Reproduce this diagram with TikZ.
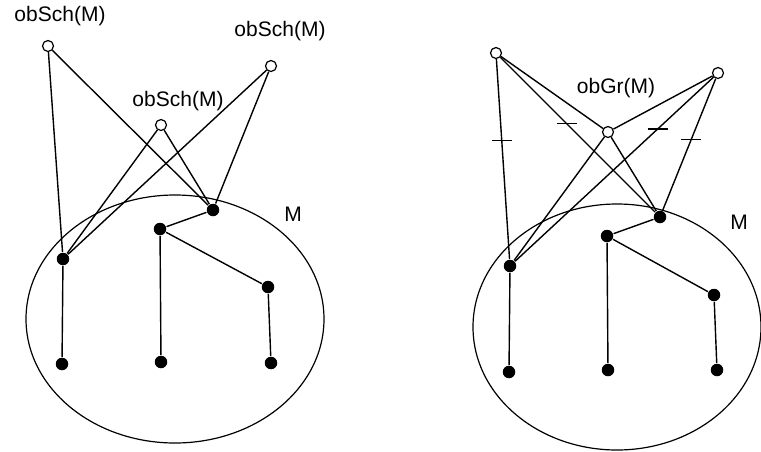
\documentclass[tikz,border=0pt]{standalone}
\usepackage{fontspec}
\setmainfont{Liberation Sans}
\usetikzlibrary{calc}

\begin{document}
\begin{tikzpicture}[x=1pt,y=-1pt,line width=1.4pt,
  opn/.style={circle,draw,fill=white,inner sep=0pt,minimum size=11pt,line width=1.2pt},
  blk/.style={circle,fill=black,inner sep=0pt,minimum size=12.5pt},
  lbl/.style={font=\fontsize{21}{25}\selectfont}]
\useasboundingbox (0,0) rectangle (761,451);
% left: obSch(M)
\draw[line width=1.2pt] (175,319) ellipse [x radius=149,y radius=124];
\node[lbl] at (293,214) {M};
\node[blk] (m1) at (63,259) {};
\node[blk] (m2) at (213,210) {};
\node[blk] (m3) at (160,229) {};
\node[blk] (m4) at (268,287) {};
\node[blk] (m5) at (62,364) {};
\node[blk] (m6) at (161,362) {};
\node[blk] (m7) at (271,363) {};
\node[opn] (ob1) at (48,46) {};
\node[opn] (ob2) at (271,66) {};
\node[opn] (ob3) at (161,125) {};
\node[lbl] at (60,16) {obSch(M)};
\node[lbl] at (280,31) {obSch(M)};
\node[lbl] at (178,101) {obSch(M)};
\foreach \o in {ob1,ob2,ob3} {
  \draw (\o) -- (m1);
  \draw (\o) -- (m2);
}
\draw (m2) -- (m3) -- (m6);
\draw (m3) -- (m4) -- (m7);
\draw (m1) -- (m5);

% right: obGr(M)
\draw[line width=1.2pt] (617,327) ellipse [x radius=144,y radius=123];
\node[lbl] at (739,222) {M};
\node[blk] (n1) at (510,266) {};
\node[blk] (n2) at (660,217) {};
\node[blk] (n3) at (607,236) {};
\node[blk] (n4) at (714,295) {};
\node[blk] (n5) at (509,372) {};
\node[blk] (n6) at (608,370) {};
\node[blk] (n7) at (717,370) {};
\node[opn] (gr1) at (496,53) {};
\node[opn] (gr2) at (718,73) {};
\node[opn] (gr3) at (608,132) {};
\node[lbl] at (616,88) {obGr(M)};
\foreach \o in {gr1,gr2,gr3} {
  \draw (\o) -- (n1);
  \draw (\o) -- (n2);
}
\draw (gr1) -- (gr3) -- (gr2);
\draw (n2) -- (n3) -- (n6);
\draw (n3) -- (n4) -- (n7);
\draw (n1) -- (n5);
% ticks
\coordinate (t1) at ($(gr1)!0.41!(n1)$);
\coordinate (t2) at ($(gr1)!0.43!(n2)$);
\coordinate (t3) at ($(gr2)!0.29!(n1)$);
\coordinate (t4) at ($(gr2)!0.46!(n2)$);
\foreach \t in {t1,t2,t3,t4}
  \draw ([xshift=-10pt]\t) -- ([xshift=10pt]\t);
\end{tikzpicture}
\end{document}
